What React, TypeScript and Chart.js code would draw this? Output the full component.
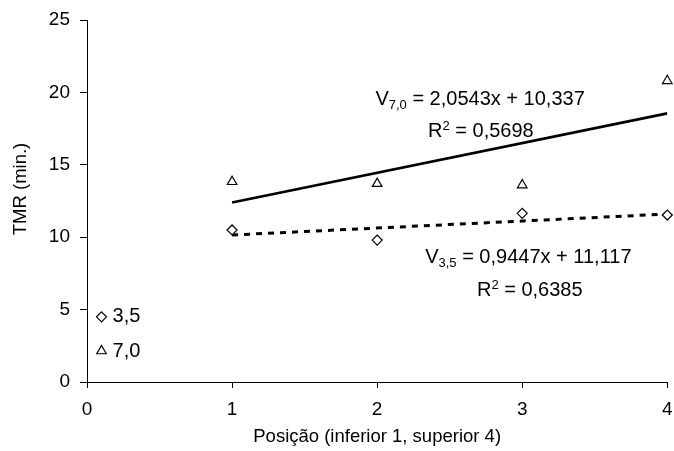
import React, { useEffect, useRef } from 'react';
import { Chart, registerables } from 'chart.js';

Chart.register(...registerables);

// ---- data ----
const positions = [1, 2, 3, 4];
const tmr35 = [10.5, 9.8, 11.65, 11.53];
const tmr70 = [13.83, 13.7, 13.6, 20.8];
const trendX = [1, 4];
const trend70 = [12.39, 18.55];
const trend35 = [10.15, 11.6];
const xTicks = [0, 1, 2, 3, 4];
const yTicks = [0, 5, 10, 15, 20, 25];
const seriesNames = ['3,5', '7,0'];
const eq70 = '2,0543x + 10,337';
const r2_70 = '0,5698';
const eq35 = '0,9447x + 11,117';
const r2_35 = '0,6385';
const xTitle = 'Posição (inferior 1, superior 4)';
const yTitle = 'TMR (min.)';

const FONT = '"Liberation Sans", Arial, Helvetica, sans-serif';

type Part = [string, 'n' | 'sub' | 'sup'];

// annotation layout (data coordinates of the text start / baseline)
const annotations: { x: number; y: number; parts: Part[] }[] = [
  { x: 1.988, y: 19.13, parts: [['V', 'n'], ['7,0', 'sub'], [' = ' + eq70, 'n']] },
  { x: 2.351, y: 16.94, parts: [['R', 'n'], ['2', 'sup'], [' = ' + r2_70, 'n']] },
  { x: 2.331, y: 8.24, parts: [['V', 'n'], ['3,5', 'sub'], [' = ' + eq35, 'n']] },
  { x: 2.688, y: 5.94, parts: [['R', 'n'], ['2', 'sup'], [' = ' + r2_35, 'n']] },
];

const legendItems = [
  { shape: 'diamond', x: 0.1, y: 4.5, label: seriesNames[0] },
  { shape: 'triangle', x: 0.1, y: 2.14, label: seriesNames[1] },
];

function drawRich(ctx: CanvasRenderingContext2D, x: number, y: number, parts: Part[]) {
  let cx = x;
  for (const [text, kind] of parts) {
    const size = kind === 'n' ? 20 : 13;
    const dy = kind === 'sub' ? 4 : kind === 'sup' ? -7 : 0;
    ctx.font = `${size}px ${FONT}`;
    ctx.fillText(text, cx, y + dy);
    cx += ctx.measureText(text).width;
  }
}

const annotationPlugin = {
  id: 'annot',
  afterDatasetsDraw(chart: any) {
    const ctx: CanvasRenderingContext2D = chart.ctx;
    const xs = chart.scales.x;
    const ys = chart.scales.y;
    ctx.save();
    ctx.fillStyle = '#000';
    ctx.textBaseline = 'alphabetic';
    ctx.textAlign = 'left';
    for (const a of annotations) {
      drawRich(ctx, xs.getPixelForValue(a.x), ys.getPixelForValue(a.y), a.parts);
    }
    // legend
    for (const it of legendItems) {
      const px = xs.getPixelForValue(it.x);
      const py = ys.getPixelForValue(it.y);
      ctx.beginPath();
      if (it.shape === 'diamond') {
        const r = 5;
        ctx.moveTo(px, py - r);
        ctx.lineTo(px + r, py);
        ctx.lineTo(px, py + r);
        ctx.lineTo(px - r, py);
      } else {
        const r = 5.5;
        ctx.moveTo(px, py - r);
        ctx.lineTo(px + r * 0.866, py + r * 0.5);
        ctx.lineTo(px - r * 0.866, py + r * 0.5);
      }
      ctx.closePath();
      ctx.fillStyle = '#fff';
      ctx.fill();
      ctx.strokeStyle = '#000';
      ctx.lineWidth = 1.2;
      ctx.stroke();
      ctx.fillStyle = '#000';
      ctx.font = `20px ${FONT}`;
      ctx.textBaseline = 'middle';
      ctx.fillText(it.label, px + 11, py);
    }
    // y axis title
    ctx.translate(25.5, 189);
    ctx.rotate(-Math.PI / 2);
    ctx.font = `18.5px ${FONT}`;
    ctx.textAlign = 'center';
    ctx.textBaseline = 'alphabetic';
    ctx.fillStyle = '#000';
    ctx.fillText(yTitle, 0, 0);
    ctx.restore();
  },
};

export default function App() {
  const ref = useRef<HTMLCanvasElement | null>(null);
  useEffect(() => {
    document.body.style.margin = '0';
    const canvas = ref.current!;
    const chart = new Chart(canvas, {
      type: 'scatter',
      data: {
        datasets: [
          {
            label: seriesNames[1],
            data: positions.map((x, i) => ({ x, y: tmr70[i] })),
            pointStyle: 'triangle',
            pointRadius: 5.5,
            pointBackgroundColor: '#fff',
            pointBorderColor: '#000',
            pointBorderWidth: 1.2,
            clip: false,
            order: 0,
          },
          {
            label: seriesNames[0],
            data: positions.map((x, i) => ({ x, y: tmr35[i] })),
            pointStyle: 'rectRot',
            pointRadius: 5,
            pointBackgroundColor: '#fff',
            pointBorderColor: '#000',
            pointBorderWidth: 1.2,
            clip: false,
            order: 0,
          },
          {
            label: 'trend 7,0',
            data: trendX.map((x, i) => ({ x, y: trend70[i] })),
            showLine: true,
            pointRadius: 0,
            borderColor: '#000',
            borderWidth: 2.6,
            order: 1,
          } as any,
          {
            label: 'trend 3,5',
            data: trendX.map((x, i) => ({ x, y: trend35[i] })),
            showLine: true,
            pointRadius: 0,
            borderColor: '#000',
            borderWidth: 3,
            borderDash: [6, 6],
            order: 1,
          } as any,
        ],
      },
      options: {
        responsive: false,
        animation: false,
        events: [],
        layout: { padding: { top: 20, right: 4, left: 0, bottom: 0 } },
        plugins: { legend: { display: false }, tooltip: { enabled: false } },
        scales: {
          x: {
            type: 'linear',
            min: 0,
            max: 4,
            afterBuildTicks: (s: any) => {
              s.ticks = xTicks.map((v) => ({ value: v }));
            },
            afterFit: (s: any) => {
              s.height = 69;
              s.paddingRight = 0;
              s.paddingLeft = 0;
            },
            ticks: { color: '#000', font: { family: FONT, size: 19 }, padding: 10, maxRotation: 0 },
            grid: { display: true, drawOnChartArea: false, drawTicks: true, tickLength: 6, color: '#000' },
            border: { display: true, color: '#000', width: 1 },
            title: {
              display: true,
              text: xTitle,
              color: '#000',
              font: { family: FONT, size: 18.5 },
              padding: { top: 0, bottom: 3 },
            },
          },
          y: {
            type: 'linear',
            min: 0,
            max: 25,
            afterBuildTicks: (s: any) => {
              s.ticks = yTicks.map((v) => ({ value: v }));
            },
            afterFit: (s: any) => {
              s.width = 87;
              s.paddingTop = 0;
              s.paddingBottom = 0;
            },
            ticks: { color: '#000', font: { family: FONT, size: 19 }, padding: 10 },
            grid: { display: true, drawOnChartArea: false, drawTicks: true, tickLength: 7, color: '#000' },
            border: { display: true, color: '#000', width: 1 },
            title: { display: false },
          },
        },
      } as any,
      plugins: [annotationPlugin],
    });
    return () => chart.destroy();
  }, []);
  return (
    <div style={{ position: 'absolute', left: 0, top: 0, width: 674, height: 451, background: '#fff' }}>
      <canvas ref={ref} width={674} height={451} style={{ display: 'block' }} />
    </div>
  );
}
